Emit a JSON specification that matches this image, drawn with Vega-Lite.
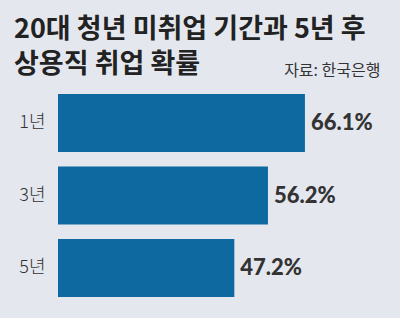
{
  "$schema": "https://vega.github.io/schema/vega-lite/v6.json",
  "width": 322,
  "height": 217.5,
  "autosize": {"type": "none"},
  "padding": {"left": 58, "top": 86.75, "right": 20, "bottom": 13.75},
  "background": "#e4e8ee",
  "title": {
    "text": ["20대 청년 미취업 기간과 5년 후", "상용직 취업 확률"],
    "font": "Noto Sans CJK KR",
    "fontSize": 27,
    "fontWeight": "bold",
    "color": "#222222",
    "anchor": "start",
    "frame": "group",
    "dx": -44,
    "dy": 16,
    "lineHeight": 35,
    "offset": 0
  },
  "data": {
    "values": [
      {"period": "1년", "rate": 66.1, "label": "66.1%"},
      {"period": "3년", "rate": 56.2, "label": "56.2%"},
      {"period": "5년", "rate": 47.2, "label": "47.2%"}
    ]
  },
  "encoding": {
    "y": {
      "field": "period",
      "type": "nominal",
      "sort": null,
      "scale": {"paddingInner": 0.2, "paddingOuter": 0.1},
      "axis": {
        "title": null,
        "ticks": false,
        "domain": false,
        "grid": false,
        "labelPadding": 13,
        "labelFont": "Noto Sans CJK KR",
        "labelFontSize": 18,
        "labelFontWeight": 300,
        "labelColor": "#333333"
      }
    },
    "x": {
      "field": "rate",
      "type": "quantitative",
      "scale": {"domain": [0, 86.19]},
      "axis": {
        "orient": "top",
        "labels": false,
        "ticks": false,
        "domain": false,
        "grid": false,
        "title": "자료: 한국은행",
        "titleFont": "Noto Sans CJK KR",
        "titleFontSize": 16,
        "titleFontWeight": "normal",
        "titleColor": "#333333",
        "titleAlign": "right",
        "titleBaseline": "alphabetic",
        "titleX": 322,
        "titleY": -11
      }
    }
  },
  "layer": [
    {"mark": {"type": "bar", "color": "#0e69a0"}},
    {
      "mark": {
        "type": "text",
        "align": "left",
        "baseline": "middle",
        "dx": 6,
        "font": "Lato",
        "fontWeight": 900,
        "fontSize": 22,
        "color": "#333333"
      },
      "encoding": {"text": {"field": "label"}}
    }
  ],
  "config": {"view": {"stroke": null}}
}
